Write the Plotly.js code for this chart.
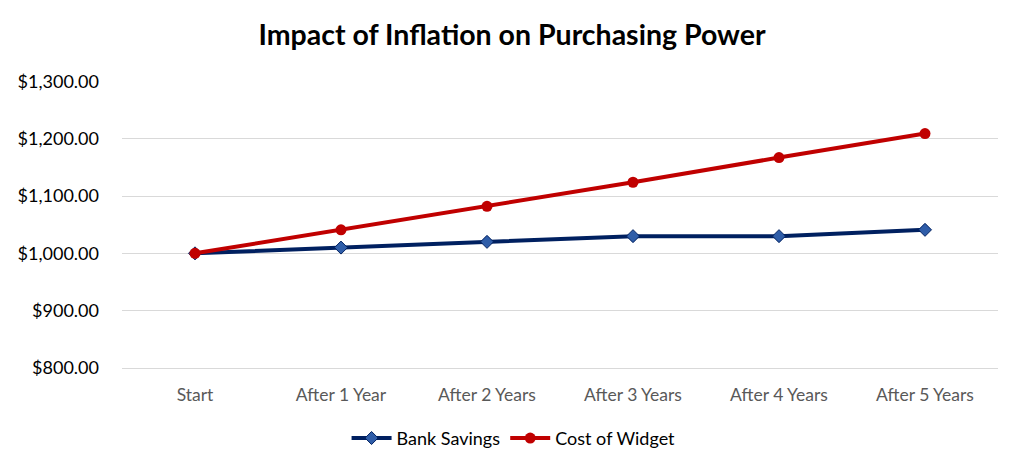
<!DOCTYPE html>
<html>
<head>
<meta charset="utf-8">
<script src="https://cdn.plot.ly/plotly-3.0.1.min.js"></script>
<style>html,body{margin:0;padding:0;background:#fff;}#chart{width:1024px;height:469px;}</style>
</head>
<body>
<div id="chart"></div>
<script>
const categories = ["Start", "After 1 Year", "After 2 Years", "After 3 Years", "After 4 Years", "After 5 Years"];
const bankSavings = [1000, 1010, 1020, 1030, 1030, 1041];
const costOfWidget = [1000, 1041, 1082, 1124, 1167, 1209];
const yTickVals = [800, 900, 1000, 1100, 1200, 1300];

const traces = [
  {
    x: categories, y: bankSavings, name: "Bank Savings", type: "scatter", mode: "lines+markers",
    line: {color: "#002060", width: 4},
    marker: {symbol: "diamond", size: 10, color: "#2f5da8", line: {color: "#002060", width: 1}}
  },
  {
    x: categories, y: costOfWidget, name: "Cost of Widget", type: "scatter", mode: "lines+markers",
    line: {color: "#c00000", width: 4},
    marker: {symbol: "circle", size: 11, color: "#c00000"}
  }
];

const layout = {
  width: 1024, height: 469,
  margin: {l: 122, r: 26, t: 81, b: 101, autoexpand: false},
  paper_bgcolor: "#fff", plot_bgcolor: "#fff",
  font: {family: "Lato, 'Open Sans', sans-serif", size: 16, color: "#262626"},
  title: {text: "<b>Impact of Inflation on Purchasing Power</b>", x: 0.5, xanchor: "center", y: 0.925, yanchor: "middle",
          font: {family: "Lato, 'Open Sans', sans-serif", size: 28.5, color: "#000"}},
  xaxis: {
    type: "category", range: [-0.5, 5.5], showgrid: false, zeroline: false,
    showline: true, linecolor: "#d9d9d9", linewidth: 1, tickangle: 0,
    ticks: "", tickfont: {color: "#595959", size: 17.5}, ticklabelstandoff: 11
  },
  yaxis: {
    range: [800, 1300.6], tickvals: yTickVals, tickformat: "$,.2f",
    showgrid: true, gridcolor: "#d9d9d9", gridwidth: 1, zeroline: false, showline: false,
    ticks: "", tickfont: {color: "#000", size: 18}, ticklabelstandoff: 22
  },
  legend: {orientation: "h", x: 0.447, xanchor: "center", y: -0.245, yanchor: "middle",
           font: {size: 18, color: "#000"}, itemwidth: 40, traceorder: "normal"},
  showlegend: true
};

Plotly.newPlot("chart", traces, layout, {displayModeBar: false, staticPlot: true});
</script>
</body>
</html>
